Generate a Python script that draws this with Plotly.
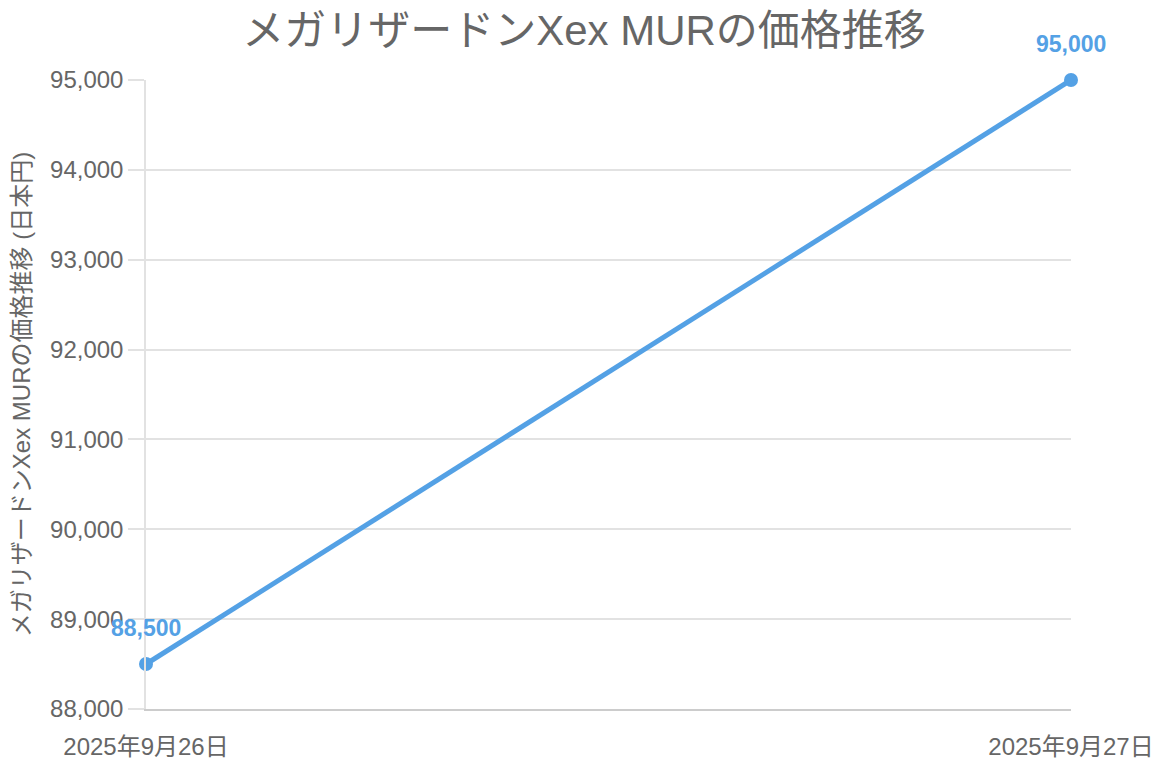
import plotly.graph_objects as go

# price history data
dates = ["2025年9月26日", "2025年9月27日"]
prices = [88500, 95000]
title_text = "メガリザードンXex MURの価格推移"
y_title = "メガリザードンXex MURの価格推移 (日本円)"

line_color = "#54a1e5"
grid_color = "#e2e2e2"
font_family = "Liberation Sans, Arial, Noto Sans CJK JP, sans-serif"

fig = go.Figure(go.Scatter(
    x=dates, y=prices,
    mode="lines+markers",
    line=dict(color=line_color, width=5),
    marker=dict(color=line_color, size=14),
    cliponaxis=False,
    hoverinfo="x+y",
))

# value labels above each point
for d, p in zip(dates, prices):
    fig.add_annotation(x=d, y=p, text=f"{p:,}", showarrow=False, yshift=36,
                       font=dict(size=23, color=line_color, family=font_family, weight="bold"))

# page has an 8px body margin, so the figure is sized to fit inside the window
fig.update_layout(
    width=1152, height=758,
    paper_bgcolor="white", plot_bgcolor="white",
    font=dict(family=font_family, color="#666666"),
    title=dict(text=title_text, x=0.5, xanchor="center", y=0.971, yanchor="middle",
               font=dict(size=42, color="#666666")),
    margin=dict(l=138, r=89, t=72, b=57),
    showlegend=False,
    xaxis=dict(
        type="category", range=[0, 1], automargin=False,
        showgrid=False,
        showline=True, linecolor="#cccccc", linewidth=1.5,
        ticks="", ticklabelstandoff=15,
        tickfont=dict(size=24, color="#666666"),
        zeroline=False,
    ),
    yaxis=dict(
        range=[88000, 95000], dtick=1000, tickformat=",d", automargin=False,
        showgrid=True, gridcolor=grid_color, gridwidth=1.5,
        showline=True, linecolor=grid_color, linewidth=1.5,
        ticks="outside", ticklen=16, tickcolor=grid_color, tickwidth=1.5,
        tickfont=dict(size=24, color="#666666"),
        zeroline=False,
        title=dict(text=y_title, font=dict(size=24, color="#666666"), standoff=16),
    ),
)

fig.write_html("out.html")
